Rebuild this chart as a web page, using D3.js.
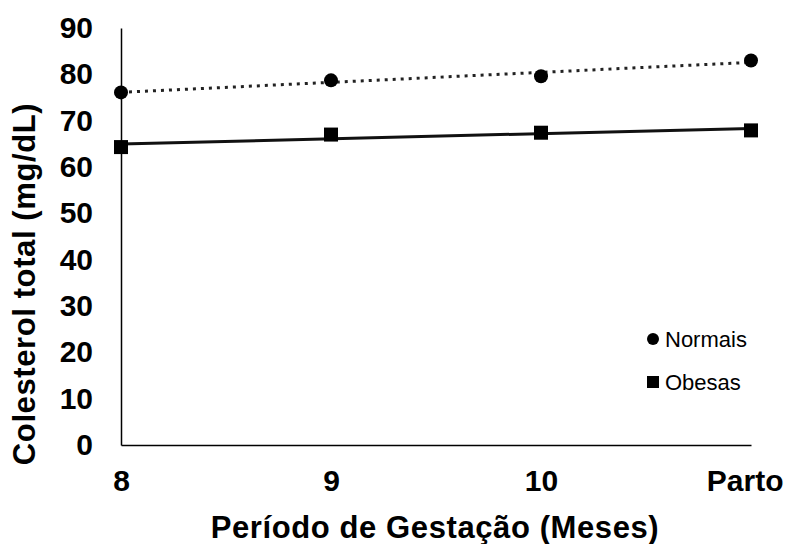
<!DOCTYPE html>
<html>
<head>
<meta charset="utf-8">
<script src="https://cdn.jsdelivr.net/npm/d3@7"></script>
<style>
  body { margin: 0; background: #fff; }
  svg { display: block; font-family: 'Liberation Sans', Arial, sans-serif; }
</style>
</head>
<body>
<div id="chart"></div>
<script>
// categories (x axis) and the two series
const periods = ["8", "9", "10", "Parto"];
const normais = [76.1, 78.7, 79.6, 83.0];
const obesas = [64.3, 67.0, 67.4, 67.9];
const yTicks = [0, 10, 20, 30, 40, 50, 60, 70, 80, 90];

const width = 787, height = 544;
const margin = {top: 28, right: 36, bottom: 99, left: 121};
const fontFam = "'Liberation Sans', Arial, sans-serif";

//least squares trend over the category index, like the excel trendline
function trend(values) {
    const n = values.length;
    const mx = d3.mean(values, (d, i) => i);
    const my = d3.mean(values);
    const sxy = d3.sum(values, (d, i) => (i - mx) * (d - my));
    const sxx = d3.sum(values, (d, i) => (i - mx) * (i - mx));
    const b = sxy / sxx;
    return [0, n - 1].map(i => ({i: i, v: my + b * (i - mx)}));
}

const svg = d3.select("#chart")
    .append("svg")
        .attr("width", width)
        .attr("height", height);

const x = d3.scalePoint()
    .domain(periods)
    .range([margin.left, width - margin.right]);

const y = d3.scaleLinear()
    .domain([0, 90])
    .range([height - margin.bottom, margin.top]);

// y axis
const yAxis = svg.append("g")
    .attr("transform", `translate(${margin.left}, 0)`)
    .call(d3.axisLeft(y).tickValues(yTicks).tickSize(0).tickPadding(28).tickFormat(d3.format("d")));
yAxis.select(".domain").attr("stroke", "#000").attr("stroke-width", 1.5);
yAxis.selectAll("text")
    .attr("font-size", 30).attr("font-weight", "bold").attr("fill", "#000")
    .attr("font-family", fontFam);

// x axis
const xAxis = svg.append("g")
    .attr("transform", `translate(0, ${height - margin.bottom})`)
    .call(d3.axisBottom(x).tickSize(0).tickPadding(25));
xAxis.select(".domain").attr("stroke", "#000").attr("stroke-width", 1.5);
xAxis.selectAll("text")
    .attr("font-size", 30).attr("font-weight", "bold").attr("fill", "#000")
    .attr("font-family", fontFam);
//last label is pushed back inside the frame
xAxis.selectAll(".tick").filter(d => d === "Parto").select("text")
    .attr("text-anchor", "end").attr("dx", 32);

// axis titles
svg.append("text")
    .attr("x", 435).attr("y", 538)
    .attr("text-anchor", "middle")
    .attr("font-family", fontFam)
    .attr("font-size", 31).attr("font-weight", "bold")
    .attr("letter-spacing", 0.6)
    .text("Período de Gestação (Meses)");

svg.append("text")
    .attr("transform", "translate(35, 284) rotate(-90)")
    .attr("text-anchor", "middle")
    .attr("font-family", fontFam)
    .attr("font-size", 31).attr("font-weight", "bold")
    .attr("letter-spacing", 0.6)
    .text("Colesterol total (mg/dL)");

// trend lines
const line = d3.line()
    .x(d => x(periods[d.i]))
    .y(d => y(d.v));

svg.append("path")
    .datum(trend(normais))
    .attr("d", line)
    .attr("fill", "none")
    .attr("stroke", "#222")
    .attr("stroke-width", 3)
    .attr("stroke-dasharray", "3,5");

svg.append("path")
    .datum(trend(obesas))
    .attr("d", line)
    .attr("fill", "none")
    .attr("stroke", "#111")
    .attr("stroke-width", 3);

// markers
svg.append("g")
    .selectAll("circle")
    .data(normais)
    .enter().append("circle")
        .attr("cx", (d, i) => x(periods[i]))
        .attr("cy", d => y(d))
        .attr("r", 7)
        .attr("fill", "#000");

svg.append("g")
    .selectAll("rect")
    .data(obesas)
    .enter().append("rect")
        .attr("x", (d, i) => x(periods[i]) - 7)
        .attr("y", d => y(d) - 7)
        .attr("width", 14)
        .attr("height", 14)
        .attr("fill", "#000");

// legend
const legend = svg.append("g").attr("transform", "translate(653, 339)")
    .attr("font-family", fontFam);
legend.append("circle").attr("cx", 0).attr("cy", 0).attr("r", 6).attr("fill", "#000");
legend.append("text").attr("x", 12).attr("y", 8).attr("font-size", 22).text("Normais");
legend.append("rect").attr("x", -6).attr("y", 37).attr("width", 12).attr("height", 12).attr("fill", "#000");
legend.append("text").attr("x", 12).attr("y", 51).attr("font-size", 22).text("Obesas");
</script>
</body>
</html>
